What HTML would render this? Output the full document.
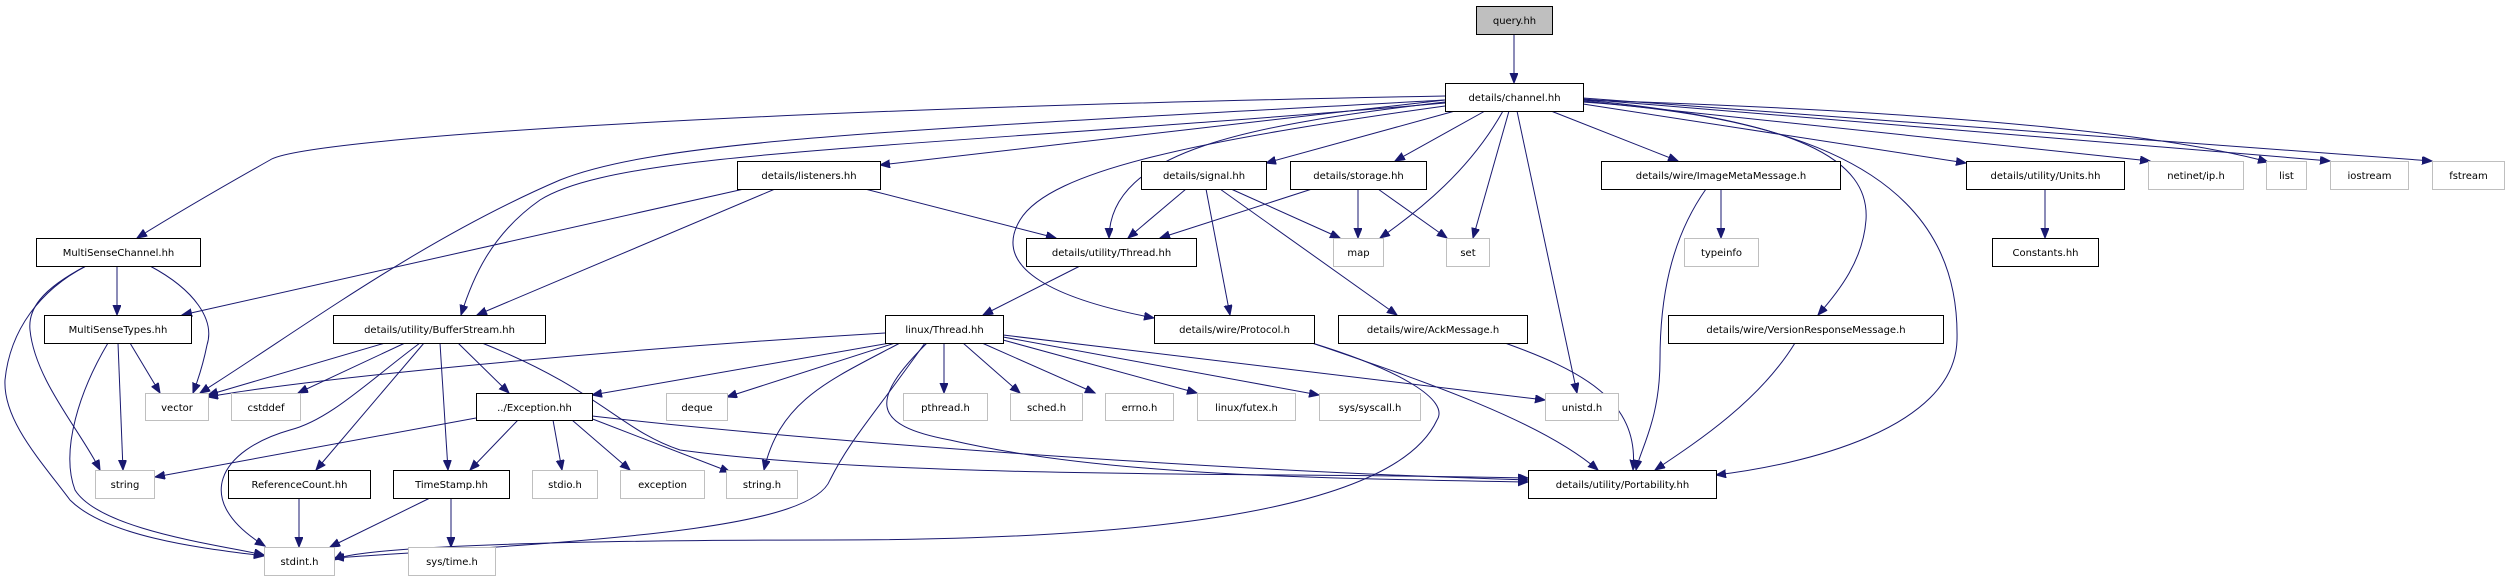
<!DOCTYPE html>
<html><head><meta charset="utf-8"><style>
html,body{margin:0;padding:0;background:#fff;}
svg{display:block;}
text{font-family:"DejaVu Sans","Liberation Sans",sans-serif;font-size:10px;fill:#000;}
.e{fill:none;stroke:#191970;stroke-width:1;}
.n{fill:#fff;stroke:#000;stroke-width:1;}
.x{fill:#fff;stroke:#bfbfbf;stroke-width:1;}
</style></head><body>
<svg width="2506" height="581" viewBox="0 0 2506 581" xmlns="http://www.w3.org/2000/svg">
<defs><marker id="a" markerUnits="userSpaceOnUse" markerWidth="12" markerHeight="10" refX="10" refY="4" orient="auto"><path d="M0,0 L10,4 L0,8 Z" fill="#191970" stroke="#191970"/></marker></defs>
<g marker-end="url(#a)">
<path class="e" d="M1514,34 L1514,83"/>
<path class="e" d="M1445,96 C700,110 300,140 270,160 Q190,205 137,238"/>
<path class="e" d="M1445,100 C900,130 660,140 560,180 C420,240 300,330 200,393"/>
<path class="e" d="M1445,103 C900,150 620,150 540,200 C490,235 472,280 461,315"/>
<path class="e" d="M1445,100 L880,165"/>
<path class="e" d="M1445,102 C1250,125 1110,150 1109,238"/>
<path class="e" d="M1445,106 C1200,140 1050,170 1020,220 C990,270 1060,300 1154,318"/>
<path class="e" d="M1455,111 L1266,163"/>
<path class="e" d="M1485,111 L1395,161"/>
<path class="e" d="M1503,111 C1470,170 1420,210 1380,238"/>
<path class="e" d="M1509,111 L1473,238"/>
<path class="e" d="M1517,111 L1577,393"/>
<path class="e" d="M1551,111 L1678,161"/>
<path class="e" d="M1583,100 C1800,120 1870,160 1866,220 C1863,260 1840,290 1818,315"/>
<path class="e" d="M1583,102 C1850,120 1960,200 1957,340 C1955,430 1800,465 1716,475"/>
<path class="e" d="M1583,104 L1966,163"/>
<path class="e" d="M1583,101 L2150,161"/>
<path class="e" d="M1583,100 C1900,110 2150,130 2268,162"/>
<path class="e" d="M1583,99 L2330,161"/>
<path class="e" d="M1583,98 L2432,161"/>
<path class="e" d="M1721,189 L1721,238"/>
<path class="e" d="M1706,189 C1670,240 1660,300 1660,360 C1660,420 1640,450 1636,470"/>
<path class="e" d="M2045,189 L2045,238"/>
<path class="e" d="M744,189 L182,315"/>
<path class="e" d="M775,189 L477,315"/>
<path class="e" d="M865,189 L1056,238"/>
<path class="e" d="M1186,189 L1128,238"/>
<path class="e" d="M1231,189 L1340,238"/>
<path class="e" d="M1206,189 L1230,315"/>
<path class="e" d="M1220,189 L1397,315"/>
<path class="e" d="M1312,189 L1160,238"/>
<path class="e" d="M1358,189 L1358,238"/>
<path class="e" d="M1378,189 L1447,238"/>
<path class="e" d="M1080,266 L983,315"/>
<path class="e" d="M117,266 L117,315"/>
<path class="e" d="M150,266 C195,290 215,320 207,345 C203,365 198,380 193,393"/>
<path class="e" d="M86,266 C40,290 28,310 30,330 C35,380 80,430 100,470"/>
<path class="e" d="M86,266 C40,290 10,330 5,380 C3,420 40,460 70,500 C110,540 220,550 264,556"/>
<path class="e" d="M130,343 L160,393"/>
<path class="e" d="M118,343 L123,470"/>
<path class="e" d="M108,343 C80,390 60,450 75,490 C100,530 220,545 264,555"/>
<path class="e" d="M385,343 L208,395"/>
<path class="e" d="M405,343 L298,393"/>
<path class="e" d="M458,343 L509,393"/>
<path class="e" d="M420,343 C370,380 330,420 290,430 C220,450 190,500 265,546"/>
<path class="e" d="M424,343 L316,470"/>
<path class="e" d="M440,343 L448,470"/>
<path class="e" d="M482,343 C600,390 620,430 680,450 C900,480 1300,472 1528,478"/>
<path class="e" d="M885,333 C600,350 300,380 208,397"/>
<path class="e" d="M890,343 L592,395"/>
<path class="e" d="M895,343 L727,397"/>
<path class="e" d="M900,343 C830,380 780,400 764,470"/>
<path class="e" d="M944,343 L944,393"/>
<path class="e" d="M963,343 L1020,393"/>
<path class="e" d="M982,343 L1095,393"/>
<path class="e" d="M1003,340 L1197,393"/>
<path class="e" d="M1003,337 L1319,395"/>
<path class="e" d="M1003,335 L1545,400"/>
<path class="e" d="M927,343 C870,400 870,425 950,440 C1100,475 1300,478 1528,482"/>
<path class="e" d="M925,343 C870,420 850,440 830,480 C810,530 600,540 334,558"/>
<path class="e" d="M1312,343 C1420,380 1540,420 1598,470"/>
<path class="e" d="M1312,343 C1400,370 1450,400 1437,420 C1400,500 1200,540 830,540 C600,540 360,545 334,560"/>
<path class="e" d="M1505,343 C1580,370 1640,400 1633,470"/>
<path class="e" d="M1795,343 C1760,400 1700,440 1655,470"/>
<path class="e" d="M476,418 L155,477"/>
<path class="e" d="M518,420 L470,470"/>
<path class="e" d="M553,420 L562,470"/>
<path class="e" d="M572,420 L630,470"/>
<path class="e" d="M590,418 L730,472"/>
<path class="e" d="M592,416 C800,440 1200,470 1528,480"/>
<path class="e" d="M299,498 L299,547"/>
<path class="e" d="M430,498 L330,547"/>
<path class="e" d="M451,498 L451,547"/>
</g>
<g>
<rect x="1476.5" y="6.5" width="76" height="28" fill="#bfbfbf" stroke="#000"/><text x="1514.5" y="24" text-anchor="middle">query.hh</text>
<rect class="n" x="1445.5" y="83.5" width="138" height="28"/><text x="1514.5" y="101" text-anchor="middle">details/channel.hh</text>
<rect class="n" x="737.5" y="161.5" width="143" height="28"/><text x="809" y="179" text-anchor="middle">details/listeners.hh</text>
<rect class="n" x="1141.5" y="161.5" width="125" height="28"/><text x="1204" y="179" text-anchor="middle">details/signal.hh</text>
<rect class="n" x="1290.5" y="161.5" width="136" height="28"/><text x="1358.5" y="179" text-anchor="middle">details/storage.hh</text>
<rect class="n" x="1601.5" y="161.5" width="239" height="28"/><text x="1721" y="179" text-anchor="middle">details/wire/ImageMetaMessage.h</text>
<rect class="n" x="1966.5" y="161.5" width="158" height="28"/><text x="2045.5" y="179" text-anchor="middle">details/utility/Units.hh</text>
<rect class="x" x="2148.5" y="161.5" width="95" height="28"/><text x="2196" y="179" text-anchor="middle">netinet/ip.h</text>
<rect class="x" x="2266.5" y="161.5" width="40" height="28"/><text x="2286.5" y="179" text-anchor="middle">list</text>
<rect class="x" x="2330.5" y="161.5" width="78" height="28"/><text x="2369.5" y="179" text-anchor="middle">iostream</text>
<rect class="x" x="2432.5" y="161.5" width="72" height="28"/><text x="2468.5" y="179" text-anchor="middle">fstream</text>
<rect class="n" x="36.5" y="238.5" width="164" height="28"/><text x="118.5" y="256" text-anchor="middle">MultiSenseChannel.hh</text>
<rect class="n" x="1026.5" y="238.5" width="170" height="28"/><text x="1111.5" y="256" text-anchor="middle">details/utility/Thread.hh</text>
<rect class="x" x="1333.5" y="238.5" width="50" height="28"/><text x="1358.5" y="256" text-anchor="middle">map</text>
<rect class="x" x="1446.5" y="238.5" width="43" height="28"/><text x="1468" y="256" text-anchor="middle">set</text>
<rect class="x" x="1684.5" y="238.5" width="74" height="28"/><text x="1721.5" y="256" text-anchor="middle">typeinfo</text>
<rect class="n" x="1992.5" y="238.5" width="106" height="28"/><text x="2045.5" y="256" text-anchor="middle">Constants.hh</text>
<rect class="n" x="44.5" y="315.5" width="147" height="28"/><text x="118" y="333" text-anchor="middle">MultiSenseTypes.hh</text>
<rect class="n" x="333.5" y="315.5" width="212" height="28"/><text x="439.5" y="333" text-anchor="middle">details/utility/BufferStream.hh</text>
<rect class="n" x="885.5" y="315.5" width="118" height="28"/><text x="944.5" y="333" text-anchor="middle">linux/Thread.hh</text>
<rect class="n" x="1154.5" y="315.5" width="160" height="28"/><text x="1234.5" y="333" text-anchor="middle">details/wire/Protocol.h</text>
<rect class="n" x="1338.5" y="315.5" width="189" height="28"/><text x="1433" y="333" text-anchor="middle">details/wire/AckMessage.h</text>
<rect class="n" x="1668.5" y="315.5" width="275" height="28"/><text x="1806" y="333" text-anchor="middle">details/wire/VersionResponseMessage.h</text>
<rect class="x" x="145.5" y="393.5" width="63" height="27"/><text x="177" y="411" text-anchor="middle">vector</text>
<rect class="x" x="231.5" y="393.5" width="69" height="27"/><text x="266" y="411" text-anchor="middle">cstddef</text>
<rect class="n" x="476.5" y="393.5" width="116" height="27"/><text x="534.5" y="411" text-anchor="middle">../Exception.hh</text>
<rect class="x" x="666.5" y="393.5" width="61" height="27"/><text x="697" y="411" text-anchor="middle">deque</text>
<rect class="x" x="903.5" y="393.5" width="84" height="27"/><text x="945.5" y="411" text-anchor="middle">pthread.h</text>
<rect class="x" x="1010.5" y="393.5" width="72" height="27"/><text x="1046.5" y="411" text-anchor="middle">sched.h</text>
<rect class="x" x="1105.5" y="393.5" width="68" height="27"/><text x="1139.5" y="411" text-anchor="middle">errno.h</text>
<rect class="x" x="1197.5" y="393.5" width="98" height="27"/><text x="1246.5" y="411" text-anchor="middle">linux/futex.h</text>
<rect class="x" x="1319.5" y="393.5" width="101" height="27"/><text x="1370" y="411" text-anchor="middle">sys/syscall.h</text>
<rect class="x" x="1545.5" y="393.5" width="73" height="27"/><text x="1582" y="411" text-anchor="middle">unistd.h</text>
<rect class="x" x="95.5" y="470.5" width="59" height="28"/><text x="125" y="488" text-anchor="middle">string</text>
<rect class="n" x="228.5" y="470.5" width="142" height="28"/><text x="299.5" y="488" text-anchor="middle">ReferenceCount.hh</text>
<rect class="n" x="393.5" y="470.5" width="116" height="28"/><text x="451.5" y="488" text-anchor="middle">TimeStamp.hh</text>
<rect class="x" x="532.5" y="470.5" width="65" height="28"/><text x="565" y="488" text-anchor="middle">stdio.h</text>
<rect class="x" x="620.5" y="470.5" width="84" height="28"/><text x="662.5" y="488" text-anchor="middle">exception</text>
<rect class="x" x="726.5" y="470.5" width="71" height="28"/><text x="762" y="488" text-anchor="middle">string.h</text>
<rect class="n" x="1528.5" y="470.5" width="188" height="28"/><text x="1622.5" y="488" text-anchor="middle">details/utility/Portability.hh</text>
<rect class="x" x="264.5" y="547.5" width="70" height="28"/><text x="299.5" y="565" text-anchor="middle">stdint.h</text>
<rect class="x" x="408.5" y="547.5" width="87" height="28"/><text x="452" y="565" text-anchor="middle">sys/time.h</text>
</g>
</svg>
</body></html>
